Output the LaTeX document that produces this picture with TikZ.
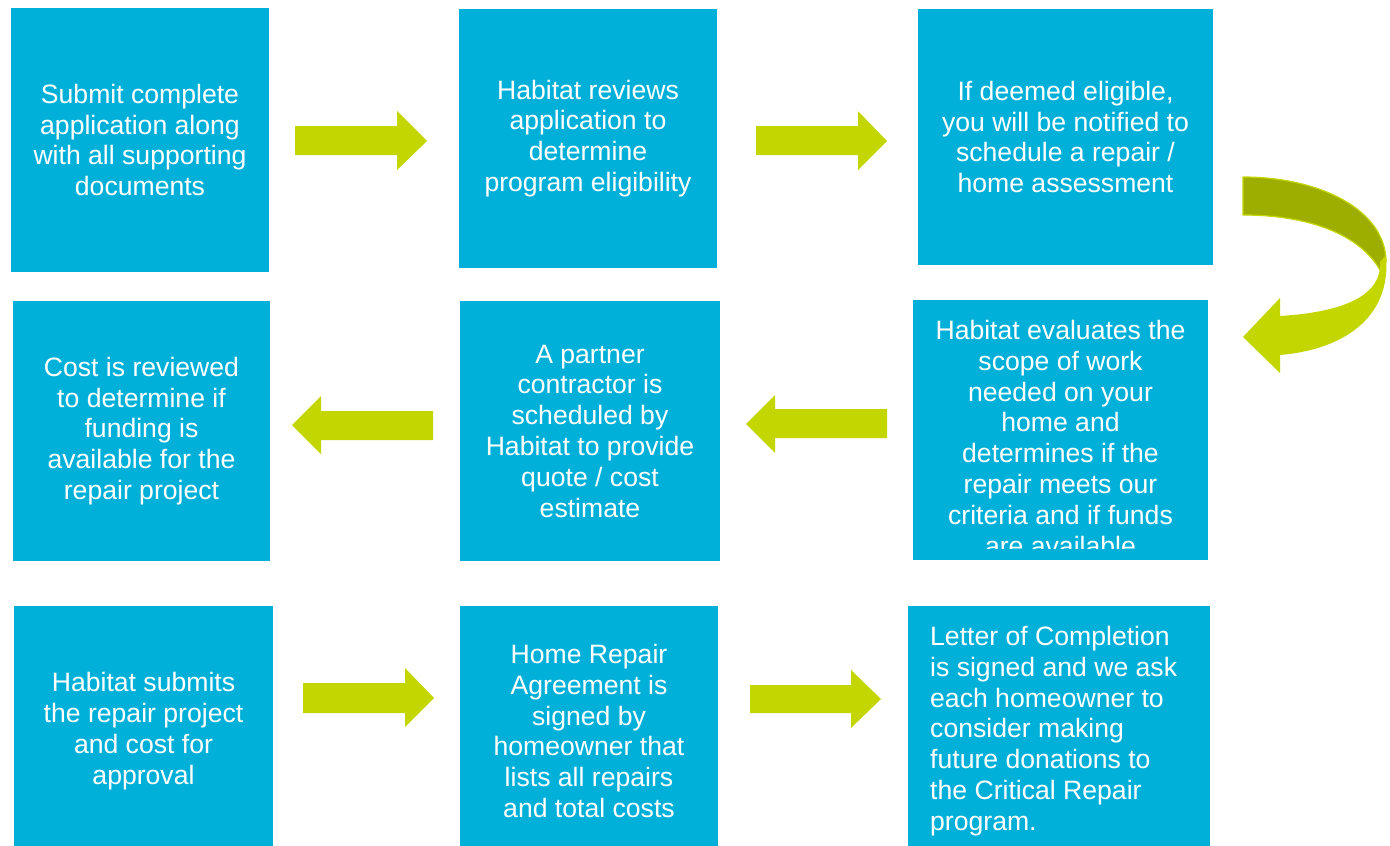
\documentclass[tikz,border=0pt]{standalone}
\usepackage{fontspec}
\setmainfont{Liberation Sans}
\definecolor{boxblue}{RGB}{0,176,216}
\definecolor{limegr}{RGB}{196,214,0}
\definecolor{olivegr}{RGB}{158,174,0}
\begin{document}
\begin{tikzpicture}[x=1pt,y=-1pt,
  box/.style={fill=boxblue, draw=none, inner sep=0pt, text=white, align=center,
    font=\fontsize{26.6}{30.8}\selectfont},
  boxtext/.style={inner sep=0pt, text=white, font=\fontsize{26.6}{30.8}\selectfont},
  blockarrow/.style={fill=limegr, draw=none}]
\useasboundingbox (0,0) rectangle (1390,846);
\fill[white] (0,0) rectangle (1390,846);

% row 1
\node[box, minimum width=258pt, minimum height=264pt] (b1) at (140,140)
  {Submit complete\\application along\\with all supporting\\documents};
\node[box, minimum width=258pt, minimum height=259pt] (b2) at (588,138.5)
  {Habitat reviews\\application to\\determine\\program eligibility};
\node[box, minimum width=295pt, minimum height=256pt] (b3) at (1065.5,137)
  {If deemed eligible,\\you will be notified to\\schedule a repair /\\home assessment};

% row 2
\node[box, minimum width=257pt, minimum height=260pt] (b4) at (141.5,431)
  {Cost is reviewed\\to determine if\\funding is\\available for the\\repair project};
\node[box, minimum width=260pt, minimum height=260pt] (b5) at (590,431)
  {A partner\\contractor is\\scheduled by\\Habitat to provide\\quote / cost\\estimate};
\node[box, minimum width=295pt, minimum height=260pt] (b6) at (1060.5,430) {};
\begin{scope}
  \clip (913,300) rectangle (1208,548);
  \node[boxtext, align=center, anchor=north] (t6) at (1060.5,320)
    {Habitat evaluates the\\scope of work\\needed on your\\home and\\determines if the\\repair meets our\\criteria and if funds\\are available};
\end{scope}

% row 3
\begin{scope}
  \clip (0,0) rectangle (1390,846);
  \node[box, minimum width=259pt, minimum height=250pt] (b7) at (143.5,731)
    {Habitat submits\\the repair project\\and cost for\\approval};
  \node[box, minimum width=258pt, minimum height=250pt] (b8) at (589,731)
    {Home Repair\\Agreement is\\signed by\\homeowner that\\lists all repairs\\and total costs};
  \node[box, minimum width=302pt, minimum height=250pt] (b9) at (1059,731) {};
\end{scope}
\node[boxtext, align=left, anchor=west] (t9) at (930,731)
  {Letter of Completion\\is signed and we ask\\each homeowner to\\consider making\\future donations to\\the Critical Repair\\program.};

% straight block arrows
\fill[blockarrow] (295,126) -- (397,126) -- (397,111) -- (427,141) -- (397,170) -- (397,155) -- (295,155) -- cycle;
\fill[blockarrow] (756,126) -- (858,126) -- (858,111) -- (887,141) -- (858,170) -- (858,155) -- (756,155) -- cycle;
\fill[blockarrow] (887,409) -- (775,409) -- (775,395) -- (746,424) -- (775,453) -- (775,438) -- (887,438) -- cycle;
\fill[blockarrow] (433,411) -- (321,411) -- (321,396) -- (292,425) -- (321,454) -- (321,440) -- (433,440) -- cycle;
\fill[blockarrow] (303,683) -- (405,683) -- (405,668) -- (434,698) -- (405,727) -- (405,713) -- (303,713) -- cycle;
\fill[blockarrow] (750,685) -- (851,685) -- (851,670) -- (881,699) -- (851,728) -- (851,713) -- (750,713) -- cycle;

% curved arrow
\filldraw[fill=olivegr, draw=limegr, line width=1.2pt, line join=round]
  (1243,177) .. controls (1320,177) and (1386,210) .. (1386,262)
  -- (1380,270) .. controls (1360,235) and (1310,215) .. (1243,215) -- cycle;
\fill[limegr]
  (1386,255) .. controls (1392,320) and (1340,350) .. (1280,355)
  -- (1280,373) -- (1243,337) -- (1280,298) -- (1280,316)
  .. controls (1345,312) and (1382,295) .. (1380,262) -- cycle;
\end{tikzpicture}
\end{document}
